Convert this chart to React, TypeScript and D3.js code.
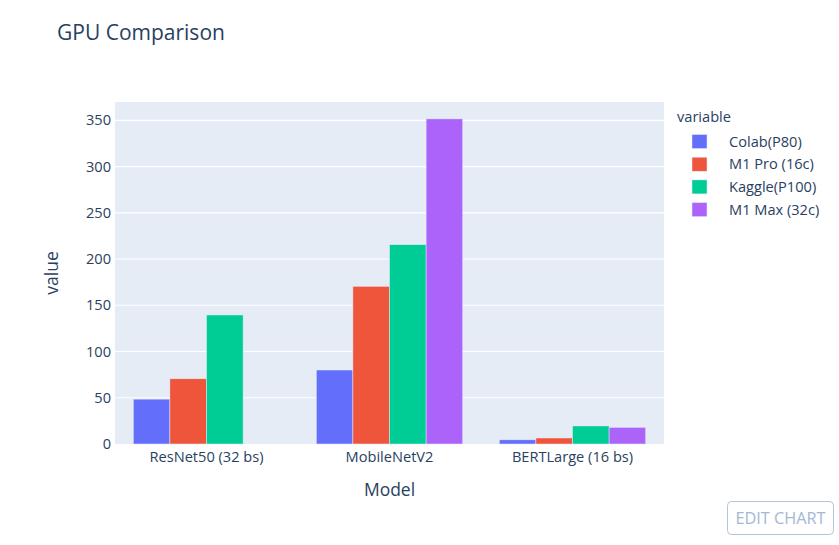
import React from 'react';
import * as d3 from 'd3';

const models = ['ResNet50 (32 bs)', 'MobileNetV2', 'BERTLarge (16 bs)'];
const seriesNames = ['Colab(P80)', 'M1 Pro (16c)', 'Kaggle(P100)', 'M1 Max (32c)'];
const colabP80 = [48.5, 80, 4.5];
const m1Pro = [70.5, 170.5, 6.5];
const kaggleP100 = [139.5, 215.5, 19.5];
const m1Max = [0, 351.5, 18];
const colors = ['#636efa', '#EF553B', '#00cc96', '#ab63fa'];
const yTicks = [0, 50, 100, 150, 200, 250, 300, 350];

const series = [colabP80, m1Pro, kaggleP100, m1Max];

const W = 839;
const H = 545;
const plot = { left: 115, right: 664, top: 102, bottom: 444 };
const font = '"Open Sans", verdana, arial, sans-serif';
const ink = '#2a3f5f';

const App: React.FC = () => {
  const x = d3.scaleBand<string>().domain(models).range([plot.left, plot.right]).paddingInner(0.2).paddingOuter(0.1);
  const xInner = d3.scaleBand<string>().domain(seriesNames).range([0, x.bandwidth()]);
  const maxVal = d3.max(series.flat()) || 1;
  const y = d3.scaleLinear().domain([0, maxVal * 1.052]).range([plot.bottom, plot.top]);

  return (
    <svg width={W} height={H} style={{ display: 'block', position: 'absolute', left: 0, top: 0 }} fontFamily={font}>
      <rect width={W} height={H} fill="#fff" />
      <rect x={plot.left} y={plot.top} width={plot.right - plot.left} height={plot.bottom - plot.top} fill="#E5ECF6" />
      {yTicks.map(t => (
        <g key={t}>
          {t > 0 && <line x1={plot.left} x2={plot.right} y1={y(t)} y2={y(t)} stroke="#fff" strokeWidth={1.2} />}
          <text x={plot.left - 4} y={y(t)} dy="0.35em" textAnchor="end" fontSize={14.6} fill={ink}>{t}</text>
        </g>
      ))}
      {series.map((vals, si) => (
        <g key={si}>
          {vals.map((v, mi) => v > 0 && (
            <rect
              key={mi}
              x={(x(models[mi]) || 0) + (xInner(seriesNames[si]) || 0)}
              y={y(v)}
              width={xInner.bandwidth()}
              height={y(0) - y(v)}
              fill={colors[si]}
              stroke="#E5ECF6"
              strokeWidth={0.5}
            />
          ))}
        </g>
      ))}
      {models.map(m => (
        <text key={m} x={(x(m) || 0) + x.bandwidth() / 2} y={plot.bottom + 17.5} textAnchor="middle" fontSize={14.6} fill={ink}>{m}</text>
      ))}
      <text x={(plot.left + plot.right) / 2} y={496} textAnchor="middle" fontSize={17.5} fill={ink}>Model</text>
      <text transform={`translate(58,${(plot.top + plot.bottom) / 2}) rotate(-90)`} textAnchor="middle" fontSize={17.5} fill={ink}>value</text>
      <text x={57} y={39.5} fontSize={21} fill={ink}>GPU Comparison</text>
      <text x={677} y={122} fontSize={14.6} fill={ink}>variable</text>
      {seriesNames.map((s, i) => (
        <g key={s} transform={`translate(0,${141.5 + i * 22.7})`}>
          <rect x={692} y={-7} width={15} height={14} fill={colors[i]} stroke="#E5ECF6" strokeWidth={0.5} />
          <text x={729} y={0} dy="0.35em" fontSize={14.6} fill={ink}>{s}</text>
        </g>
      ))}
      <rect x={727.5} y={501.5} width={106} height={33} rx={4} fill="#fff" stroke="#b4c3dc" strokeWidth={1} />
      <text x={780.5} y={518} dy="0.35em" textAnchor="middle" fontSize={16.3} fill="#a5b6d6">EDIT CHART</text>
    </svg>
  );
};

export default App;
